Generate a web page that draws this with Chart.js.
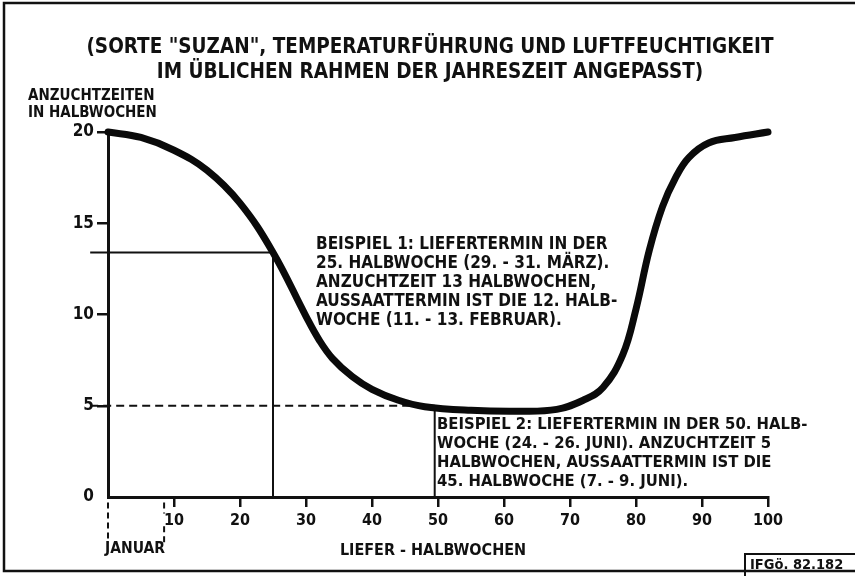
<!DOCTYPE html>
<html>
<head>
<meta charset="utf-8">
<script src="https://cdn.jsdelivr.net/npm/chart.js@4/dist/chart.umd.min.js"></script>
<style>
  body { margin: 0; background: #fff; }
  canvas { display: block; }
</style>
</head>
<body>
<canvas id="suzanChart" width="855" height="576"></canvas>
<script>
// Anzuchtzeit (Halbwochen) je Liefer-Halbwoche
const lieferHalbwochen = [0, 5, 10, 15, 20, 25, 30, 32, 34, 37, 40, 44, 48, 55, 62, 68, 72, 75, 78, 80, 82, 84, 86, 88, 91, 95, 100];
const anzuchtzeiten = [20, 19.7, 19.0, 17.9, 16.1, 13.4, 9.9, 8.6, 7.6, 6.6, 5.9, 5.3, 4.95, 4.75, 4.7, 4.8, 5.3, 6.0, 7.8, 10.3, 13.5, 15.9, 17.5, 18.6, 19.4, 19.7, 20];

const beispiel1X = [-2.7, 25, 25];
const beispiel1Y = [13.4, 13.4, 0];
// Beispiel 2: Liefertermin 50. Halbwoche, Anzuchtzeit 5
const beispiel2DashX = [-2.7, 49.5];
const beispiel2DashY = [5, 5];
const beispiel2X = [49.5, 49.5];
const beispiel2Y = [5, 0];
// Januar-Markierung unter der Achse
const januarX = [0, 8.5];
const januarY = [-0.3, -2.5];

const xTicks = [10, 20, 30, 40, 50, 60, 70, 80, 90, 100];
const yTicks = [0, 5, 10, 15, 20];

const titleLines = [
  '(SORTE "SUZAN", TEMPERATURFÜHRUNG UND LUFTFEUCHTIGKEIT',
  'IM ÜBLICHEN RAHMEN DER JAHRESZEIT ANGEPASST)'
];
const yLabelLines = ['ANZUCHTZEITEN', 'IN HALBWOCHEN'];
const beispiel1Text = [
  'BEISPIEL 1: LIEFERTERMIN IN DER',
  '25. HALBWOCHE (29. - 31. MÄRZ).',
  'ANZUCHTZEIT 13 HALBWOCHEN,',
  'AUSSAATTERMIN IST DIE 12. HALB-',
  'WOCHE (11. - 13. FEBRUAR).'
];
const beispiel2Text = [
  'BEISPIEL 2: LIEFERTERMIN IN DER 50. HALB-',
  'WOCHE (24. - 26. JUNI). ANZUCHTZEIT 5',
  'HALBWOCHEN, AUSSAATTERMIN IST DIE',
  '45. HALBWOCHE (7. - 9. JUNI).'
];

const toPoints = (xs, ys) => xs.map((x, i) => ({ x: x, y: ys[i] }));
const FONT = '"DejaVu Sans Condensed", "DejaVu Sans", sans-serif';

const thinLine = {
  borderColor: '#111',
  borderWidth: 2,
  pointRadius: 0,
  showLine: true,
  clip: false,
  tension: 0
};

// texts and frame
const textPlugin = {
  id: 'texte',
  afterDraw(chart) {
    const ctx = chart.ctx;
    ctx.save();
    ctx.fillStyle = '#111';
    ctx.strokeStyle = '#111';

    // frame
    ctx.lineWidth = 2.5;
    ctx.beginPath();
    ctx.moveTo(855, 3); ctx.lineTo(4, 3); ctx.lineTo(4, 571); ctx.lineTo(855, 571);
    ctx.stroke();

    ctx.textBaseline = 'middle';
    ctx.textAlign = 'center';
    ctx.font = 'bold 20.5px ' + FONT;
    ctx.fillText(titleLines[0], 430, 48);
    ctx.fillText(titleLines[1], 430, 73);

    ctx.textAlign = 'left';
    ctx.font = 'bold 15px ' + FONT;
    ctx.fillText(yLabelLines[0], 28, 96);
    ctx.fillText(yLabelLines[1], 28, 113);

    ctx.font = 'bold 17px ' + FONT;
    beispiel1Text.forEach((t, i) => ctx.fillText(t, 316, 245 + i * 19));
    ctx.font = 'bold 16.5px ' + FONT;
    beispiel2Text.forEach((t, i) => ctx.fillText(t, 437, 425 + i * 18.8));

    ctx.font = 'bold 15.5px ' + FONT;
    ctx.textAlign = 'center';
    ctx.fillText('JANUAR', 135, 549);
    ctx.font = 'bold 16px ' + FONT;
    ctx.fillText('LIEFER - HALBWOCHEN', 433, 551);

    // Kennung unten rechts
    ctx.lineWidth = 2;
    ctx.beginPath();
    ctx.moveTo(745, 576); ctx.lineTo(745, 554); ctx.lineTo(855, 554);
    ctx.stroke();
    ctx.textAlign = 'left';
    ctx.font = 'bold 14.5px ' + FONT;
    ctx.fillText('IFGö. 82.182', 750, 565);
    ctx.restore();
  }
};

const ctx = document.getElementById('suzanChart').getContext('2d');
new Chart(ctx, {
  type: 'scatter',
  data: {
    datasets: [
      {
        data: toPoints(lieferHalbwochen, anzuchtzeiten),
        borderColor: '#0a0a0a',
        borderWidth: 7,
        pointRadius: 0,
        showLine: true,
        tension: 0.4,
        borderCapStyle: 'round',
        borderJoinStyle: 'round',
        clip: false
      },
      Object.assign({ data: toPoints(beispiel1X, beispiel1Y) }, thinLine),
      Object.assign({ data: toPoints(beispiel2DashX, beispiel2DashY), borderDash: [8, 5] }, thinLine),
      Object.assign({ data: toPoints(beispiel2X, beispiel2Y) }, thinLine),
      Object.assign({ data: toPoints([januarX[0], januarX[0]], januarY), borderDash: [6, 4] }, thinLine),
      Object.assign({ data: toPoints([januarX[1], januarX[1]], [januarY[0], -0.9]), borderDash: [6, 4] }, thinLine),
      Object.assign({ data: toPoints([januarX[1], januarX[1]], [-1.6, januarY[1]]), borderDash: [6, 4] }, thinLine)
    ]
  },
  options: {
    responsive: false,
    animation: false,
    layout: { padding: { left: 0, right: 87, top: 132, bottom: 0 } },
    plugins: {
      legend: { display: false },
      tooltip: { enabled: false }
    },
    scales: {
      x: {
        type: 'linear',
        min: 0,
        max: 100,
        afterFit: s => { s.height = 79; },
        afterBuildTicks: s => { s.ticks = xTicks.map(v => ({ value: v })); },
        grid: { drawOnChartArea: false, color: '#111', lineWidth: 2.5, tickLength: 10 },
        border: { color: '#111', width: 3 },
        ticks: { color: '#111', padding: 4, font: { family: FONT, size: 16, weight: 'bold' } }
      },
      y: {
        min: 0,
        max: 20,
        afterFit: s => { s.width = 108; },
        afterBuildTicks: s => { s.ticks = yTicks.map(v => ({ value: v })); },
        grid: {
          drawOnChartArea: false,
          color: c => (c.tick && c.tick.value === 0) ? 'rgba(0,0,0,0)' : '#111',
          lineWidth: 2.5,
          tickLength: 11
        },
        border: { color: '#111', width: 3 },
        ticks: { color: '#111', padding: 3, font: { family: FONT, size: 17, weight: 'bold' } }
      }
    }
  },
  plugins: [textPlugin]
});
</script>
</body>
</html>
